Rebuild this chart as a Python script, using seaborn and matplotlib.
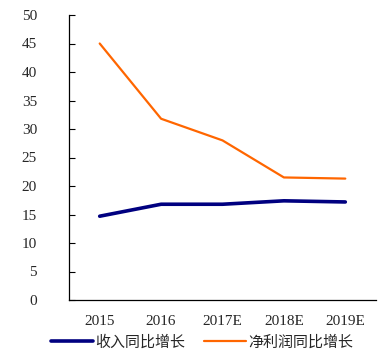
import matplotlib
matplotlib.use("Agg")
import matplotlib.pyplot as plt
import seaborn as sns
import pandas as pd
from matplotlib.ticker import FixedLocator, MultipleLocator

years = ["2015", "2016", "2017E", "2018E", "2019E"]
revenue_growth = [14.7, 16.8, 16.8, 17.4, 17.2]
profit_growth = [45.0, 31.8, 28.0, 21.5, 21.3]
series_names = ["收入同比增长", "净利润同比增长"]
colors = ["#000080", "#FF6600"]

df = pd.concat([
    pd.DataFrame({"year": years, "value": revenue_growth, "series": series_names[0]}),
    pd.DataFrame({"year": years, "value": profit_growth, "series": series_names[1]}),
])

sns.set_style("white")
plt.rcParams["font.family"] = ["Liberation Serif", "Noto Sans CJK SC", "DejaVu Sans"]

fig = plt.figure(figsize=(3.79, 3.51), dpi=100)
ax = fig.add_axes([69 / 379, 51 / 351, 307 / 379, 285 / 351])

sns.lineplot(data=df, x="year", y="value", hue="series", palette=colors,
             sort=False, ax=ax, legend=False)
ax.lines[0].set_linewidth(2.6)
ax.lines[1].set_linewidth(1.6)

ax.set_xlim(-0.5, 4.5)
ax.set_ylim(0, 50)
ax.yaxis.set_major_locator(MultipleLocator(5))
ax.xaxis.set_minor_locator(FixedLocator([0.5, 1.5, 2.5, 3.5, 4.5]))
ax.tick_params(axis="x", which="major", length=0, pad=11, labelsize=11)
ax.tick_params(axis="x", which="minor", direction="in", length=4, width=0.8, color="black")
ax.tick_params(axis="y", direction="in", length=4, width=0.8, color="black",
               left=True, pad=23, labelsize=11)
ax.set_xlabel("")
ax.set_ylabel("")

for s in ["top", "right"]:
    ax.spines[s].set_visible(False)
for s in ["left", "bottom"]:
    ax.spines[s].set_color("black")
    ax.spines[s].set_linewidth(0.9)

handles = [plt.Line2D([], [], color=colors[0], lw=2.6),
           plt.Line2D([], [], color=colors[1], lw=1.6)]
fig.legend(handles, series_names, loc="center", bbox_to_anchor=(202 / 379, 1 - 342 / 351),
           ncol=2, frameon=False, handlelength=2.8, handletextpad=0.2,
           columnspacing=1.2, prop={"family": ["Noto Sans CJK SC"], "size": 10.8})

fig.savefig("out.png", dpi=100)
